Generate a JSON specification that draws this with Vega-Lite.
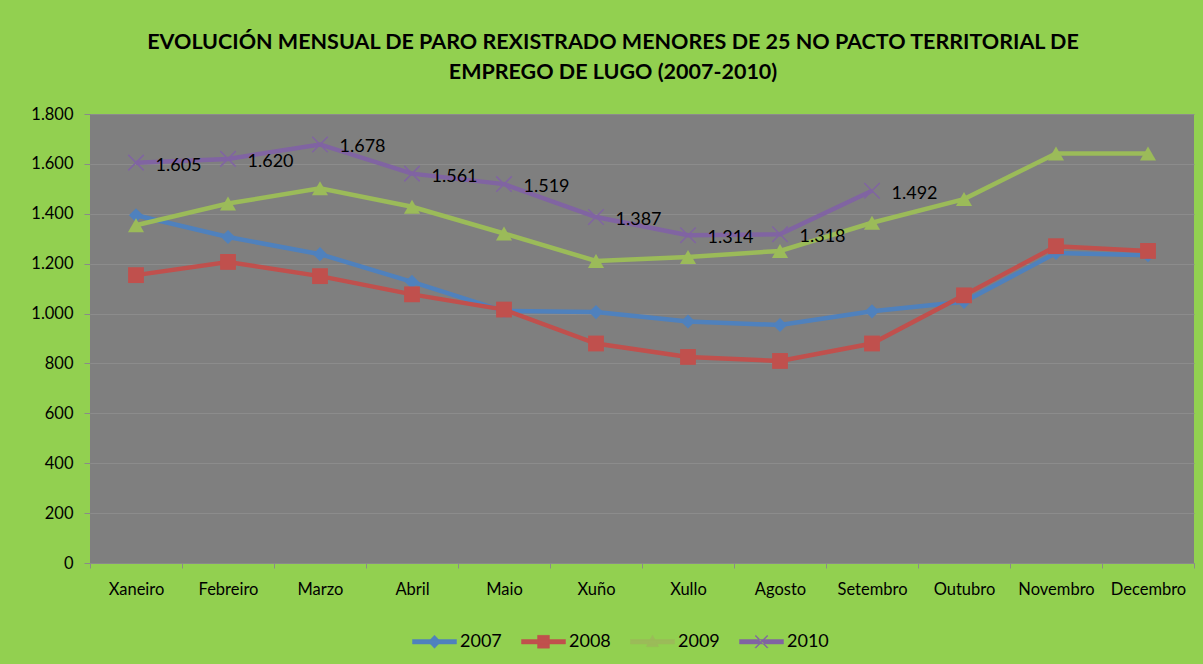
{
  "$schema": "https://vega.github.io/schema/vega-lite/v6.json",
  "autosize": {"type": "none"},
  "width": 1104,
  "height": 449,
  "padding": {"left": 90, "top": 114, "right": 9, "bottom": 101},
  "background": "#92D050",
  "config": {
    "locale": {"number": {"decimal": ",", "thousands": ".", "grouping": [3], "currency": ["", " €"]}},
    "font": "Lato",
    "view": {"fill": "#7F7F7F", "stroke": null}
  },
  "title": {
    "text": ["EVOLUCIÓN MENSUAL DE PARO REXISTRADO MENORES DE 25 NO PACTO TERRITORIAL DE", "EMPREGO DE LUGO (2007-2010)"],
    "font": "Lato",
    "fontSize": 21.5,
    "fontWeight": "bold",
    "lineHeight": 30.6,
    "color": "#000000",
    "anchor": "middle",
    "dx": -29,
    "offset": 22
  },
  "data": {
    "values": [
      {"m": "Xaneiro", "y": "2007", "v": 1394},
      {"m": "Febreiro", "y": "2007", "v": 1307},
      {"m": "Marzo", "y": "2007", "v": 1238},
      {"m": "Abril", "y": "2007", "v": 1127},
      {"m": "Maio", "y": "2007", "v": 1010},
      {"m": "Xuño", "y": "2007", "v": 1006},
      {"m": "Xullo", "y": "2007", "v": 968},
      {"m": "Agosto", "y": "2007", "v": 954},
      {"m": "Setembro", "y": "2007", "v": 1009},
      {"m": "Outubro", "y": "2007", "v": 1047},
      {"m": "Novembro", "y": "2007", "v": 1243},
      {"m": "Decembro", "y": "2007", "v": 1234},
      {"m": "Xaneiro", "y": "2008", "v": 1154},
      {"m": "Febreiro", "y": "2008", "v": 1207},
      {"m": "Marzo", "y": "2008", "v": 1150},
      {"m": "Abril", "y": "2008", "v": 1077},
      {"m": "Maio", "y": "2008", "v": 1016},
      {"m": "Xuño", "y": "2008", "v": 880},
      {"m": "Xullo", "y": "2008", "v": 826},
      {"m": "Agosto", "y": "2008", "v": 810},
      {"m": "Setembro", "y": "2008", "v": 880},
      {"m": "Outubro", "y": "2008", "v": 1073},
      {"m": "Novembro", "y": "2008", "v": 1270},
      {"m": "Decembro", "y": "2008", "v": 1251},
      {"m": "Xaneiro", "y": "2009", "v": 1354},
      {"m": "Febreiro", "y": "2009", "v": 1441},
      {"m": "Marzo", "y": "2009", "v": 1502},
      {"m": "Abril", "y": "2009", "v": 1428},
      {"m": "Maio", "y": "2009", "v": 1321},
      {"m": "Xuño", "y": "2009", "v": 1211},
      {"m": "Xullo", "y": "2009", "v": 1227},
      {"m": "Agosto", "y": "2009", "v": 1251},
      {"m": "Setembro", "y": "2009", "v": 1364},
      {"m": "Outubro", "y": "2009", "v": 1459},
      {"m": "Novembro", "y": "2009", "v": 1642},
      {"m": "Decembro", "y": "2009", "v": 1642},
      {"m": "Xaneiro", "y": "2010", "v": 1605},
      {"m": "Febreiro", "y": "2010", "v": 1620},
      {"m": "Marzo", "y": "2010", "v": 1678},
      {"m": "Abril", "y": "2010", "v": 1561},
      {"m": "Maio", "y": "2010", "v": 1519},
      {"m": "Xuño", "y": "2010", "v": 1387},
      {"m": "Xullo", "y": "2010", "v": 1314},
      {"m": "Agosto", "y": "2010", "v": 1318},
      {"m": "Setembro", "y": "2010", "v": 1492}
    ]
  },
  "encoding": {
    "x": {
      "field": "m",
      "type": "nominal",
      "sort": null,
      "bandPosition": 0.5,
      "scale": {"type": "band", "paddingInner": 0, "paddingOuter": 0},
      "axis": {
        "title": null,
        "labelAngle": 0,
        "tickBand": "extent",
        "tickSize": 5,
        "labelPadding": 13,
        "labelFontSize": 16.5,
        "labelColor": "#000000",
        "labelFont": "Lato",
        "domainColor": "#8A8A8A",
        "tickColor": "#8A8A8A",
        "grid": false
      }
    },
    "y": {
      "field": "v",
      "type": "quantitative",
      "scale": {"domain": [0, 1800], "nice": false},
      "axis": {
        "title": null,
        "values": [0, 200, 400, 600, 800, 1000, 1200, 1400, 1600, 1800],
        "format": ",d",
        "grid": true,
        "gridColor": "#8C8C8C",
        "gridWidth": 1,
        "domain": false,
        "tickColor": "#8A8A8A",
        "tickSize": 6,
        "labelPadding": 11,
        "labelFontSize": 16.5,
        "labelColor": "#000000",
        "labelFont": "Lato"
      }
    },
    "color": {
      "field": "y",
      "type": "nominal",
      "scale": {"domain": ["2007", "2008", "2009", "2010"], "range": ["#4F81BD", "#C0504D", "#9BBB59", "#8064A2"]},
      "legend": {
        "title": null,
        "orient": "none",
        "direction": "horizontal",
        "legendX": 322,
        "legendY": 505,
        "padding": 0,
        "symbolSize": 1936,
        "symbolStrokeWidth": 1,
        "labelFontSize": 18,
        "labelFont": "Lato",
        "labelColor": "#000000",
        "labelOffset": 3,
        "columnPadding": 18,
        "encode": {
          "symbols": {
            "update": {
              "shape": {"signal": "datum.value == '2007' ? 'M-1,-0.1L1,-0.1L1,0.1L-1,0.1Z M0,-0.3L0.28,0L0,0.3L-0.28,0Z' : datum.value == '2008' ? 'M-1,-0.1L1,-0.1L1,0.1L-1,0.1Z M-0.27,-0.29L0.27,-0.29L0.27,0.29L-0.27,0.29Z' : datum.value == '2009' ? 'M-1,-0.1L1,-0.1L1,0.1L-1,0.1Z M0,-0.3L0.28,0.22L-0.28,0.22Z' : 'M-1,-0.1L1,-0.1L1,0.1L-1,0.1Z M-0.29,-0.26L0.26,0.29L0.29,0.26L-0.26,-0.29Z M0.26,-0.29L0.29,-0.26L-0.26,0.29L-0.29,0.26Z'"},
              "fill": {"signal": "scale('color', datum.value)"},
              "stroke": {"signal": "scale('color', datum.value)"},
              "strokeWidth": {"value": 0.5},
              "opacity": {"value": 1},
              "fillOpacity": {"value": 1}
            }
          }
        }
      }
    }
  },
  "layer": [
    {
      "mark": {"type": "line", "strokeWidth": 4.5}
    },
    {
      "transform": [{"filter": "datum.y == '2007'"}],
      "mark": {"type": "point", "filled": true, "opacity": 1, "shape": "diamond", "size": 200, "strokeWidth": 1.5}
    },
    {
      "transform": [{"filter": "datum.y == '2008'"}],
      "mark": {"type": "point", "filled": true, "opacity": 1, "shape": "square", "size": 250, "strokeWidth": 1}
    },
    {
      "transform": [{"filter": "datum.y == '2009'"}],
      "mark": {"type": "point", "filled": true, "opacity": 1, "shape": "triangle-up", "size": 260, "strokeWidth": 1}
    },
    {
      "transform": [{"filter": "datum.y == '2010'"}],
      "mark": {"type": "point", "filled": false, "opacity": 1, "shape": "M-1,-1L1,1M1,-1L-1,1", "size": 240, "strokeWidth": 1.5}
    },
    {
      "transform": [{"filter": "datum.y == '2010'"}],
      "mark": {"type": "text", "align": "left", "baseline": "middle", "dx": 19.5, "dy": 3, "fontSize": 18, "font": "Lato", "color": "#000000"},
      "encoding": {
        "text": {"field": "v", "type": "quantitative", "format": ",d"},
        "color": {"value": "#000000"}
      }
    }
  ]
}
